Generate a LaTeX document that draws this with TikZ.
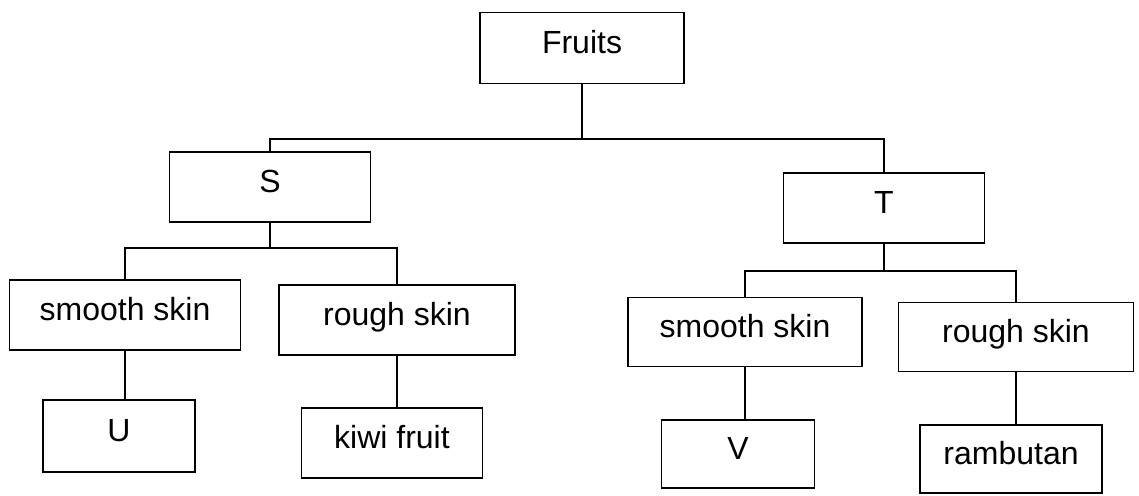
\documentclass[tikz,border=0pt]{standalone}
\usepackage{fontspec}
\setmainfont{Liberation Sans}
\begin{document}
\begin{tikzpicture}[x=0.5pt,y=-0.5pt,
  box/.style={draw,line width=0.8pt,inner sep=0pt,font=\fontsize{16}{19}\selectfont,text height=0.7em,text depth=0.2em},
  conn/.style={line width=0.8pt}]
\useasboundingbox (0,0) rectangle (1139,495);
\node[box,minimum width=102pt,minimum height=35.5pt] (fruits) at (582,48) {Fruits};
\node[box,minimum width=100.5pt,minimum height=35pt] (S) at (270,187) {S};
\node[box,minimum width=100.5pt,minimum height=35pt] (T) at (884,208) {T};
\node[box,minimum width=115.5pt,minimum height=35pt] (sL) at (125,315) {smooth skin};
\node[box,minimum width=118pt,minimum height=35pt] (rL) at (397,320) {rough skin};
\node[box,minimum width=76pt,minimum height=36pt] (U) at (119,436) {U};
\node[box,minimum width=90.5pt,minimum height=35pt] (kiwi) at (392,443) {kiwi fruit};
\node[box,minimum width=117pt,minimum height=34.5pt] (sR) at (745,332) {smooth skin};
\node[box,minimum width=117.5pt,minimum height=34.5pt] (rR) at (1016,337) {rough skin};
\node[box,minimum width=76.5pt,minimum height=34pt] (V) at (738,454) {V};
\node[box,minimum width=91pt,minimum height=34pt] (ram) at (1011,459) {rambutan};
\coordinate (m) at (582,139);
\coordinate (ms) at (270,248);
\coordinate (mt) at (884,271);
\draw[conn] (fruits.south) -- (m);
\draw[conn] (S.north) |- (m) -| (T.north);
\draw[conn] (S.south) -- (ms);
\draw[conn] (sL.north) |- (ms) -| (rL.north);
\draw[conn] (sL.south) -- (sL.south |- U.north);
\draw[conn] (rL.south) -- (rL.south |- kiwi.north);
\draw[conn] (T.south) -- (mt);
\draw[conn] (sR.north) |- (mt) -| (rR.north);
\draw[conn] (sR.south) -- (sR.south |- V.north);
\draw[conn] (rR.south) -- (rR.south |- ram.north);
\end{tikzpicture}
\end{document}
